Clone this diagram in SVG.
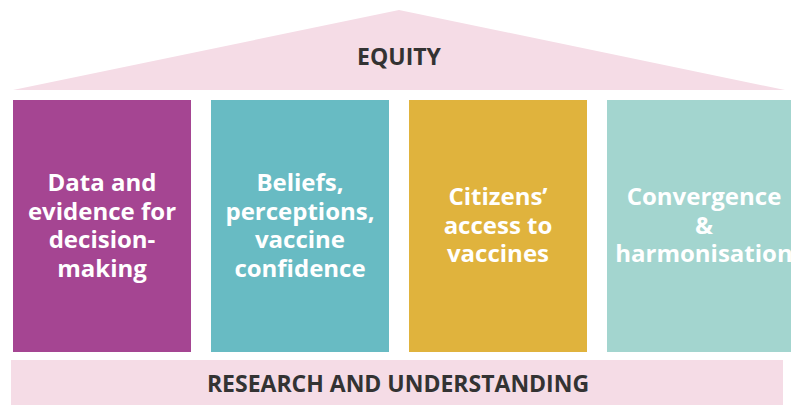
<svg xmlns="http://www.w3.org/2000/svg" width="791" height="405" viewBox="0 0 791 405">
<style>
.pt{font-family:"Open Sans","Noto Sans",sans-serif;font-weight:700;font-size:24px;fill:#ffffff;text-anchor:middle}
.lbl{font-family:"Open Sans","Noto Sans",sans-serif;font-weight:700;font-size:23px;fill:#333333;text-anchor:middle}
.pink{fill:#f5dce6}
</style>
<rect width="791" height="405" fill="#ffffff"/>
<g id="roof">
<polygon class="pink" points="13,90 399,10 785,90"/>
<text class="lbl" x="399" y="65">EQUITY</text>
</g>
<g id="pillar1">
<rect x="13" y="100" width="178" height="252" fill="#a54592"/>
<text class="pt" x="102" y="191">Data and</text>
<text class="pt" x="102" y="220">evidence for</text>
<text class="pt" x="102" y="248">decision-</text>
<text class="pt" x="102" y="277">making</text>
</g>
<g id="pillar2">
<rect x="211" y="100" width="178" height="252" fill="#68bbc3"/>
<text class="pt" x="300" y="191">Beliefs,</text>
<text class="pt" x="300" y="220">perceptions,</text>
<text class="pt" x="300" y="248">vaccine</text>
<text class="pt" x="300" y="277">confidence</text>
</g>
<g id="pillar3">
<rect x="409" y="100" width="178" height="252" fill="#e0b33d"/>
<text class="pt" x="498" y="205">Citizens’</text>
<text class="pt" x="498" y="234">access to</text>
<text class="pt" x="498" y="262">vaccines</text>
</g>
<g id="pillar4">
<rect x="607" y="100" width="184" height="252" fill="#a3d5cf"/>
<text class="pt" x="704" y="205">Convergence</text>
<text class="pt" x="704" y="234">&amp;</text>
<text class="pt" x="704" y="262">harmonisation</text>
</g>
<g id="base">
<rect class="pink" x="11" y="360" width="772" height="45"/>
<text class="lbl" x="398" y="392">RESEARCH AND UNDERSTANDING</text>
</g>
<g id="connectors"/>
</svg>
